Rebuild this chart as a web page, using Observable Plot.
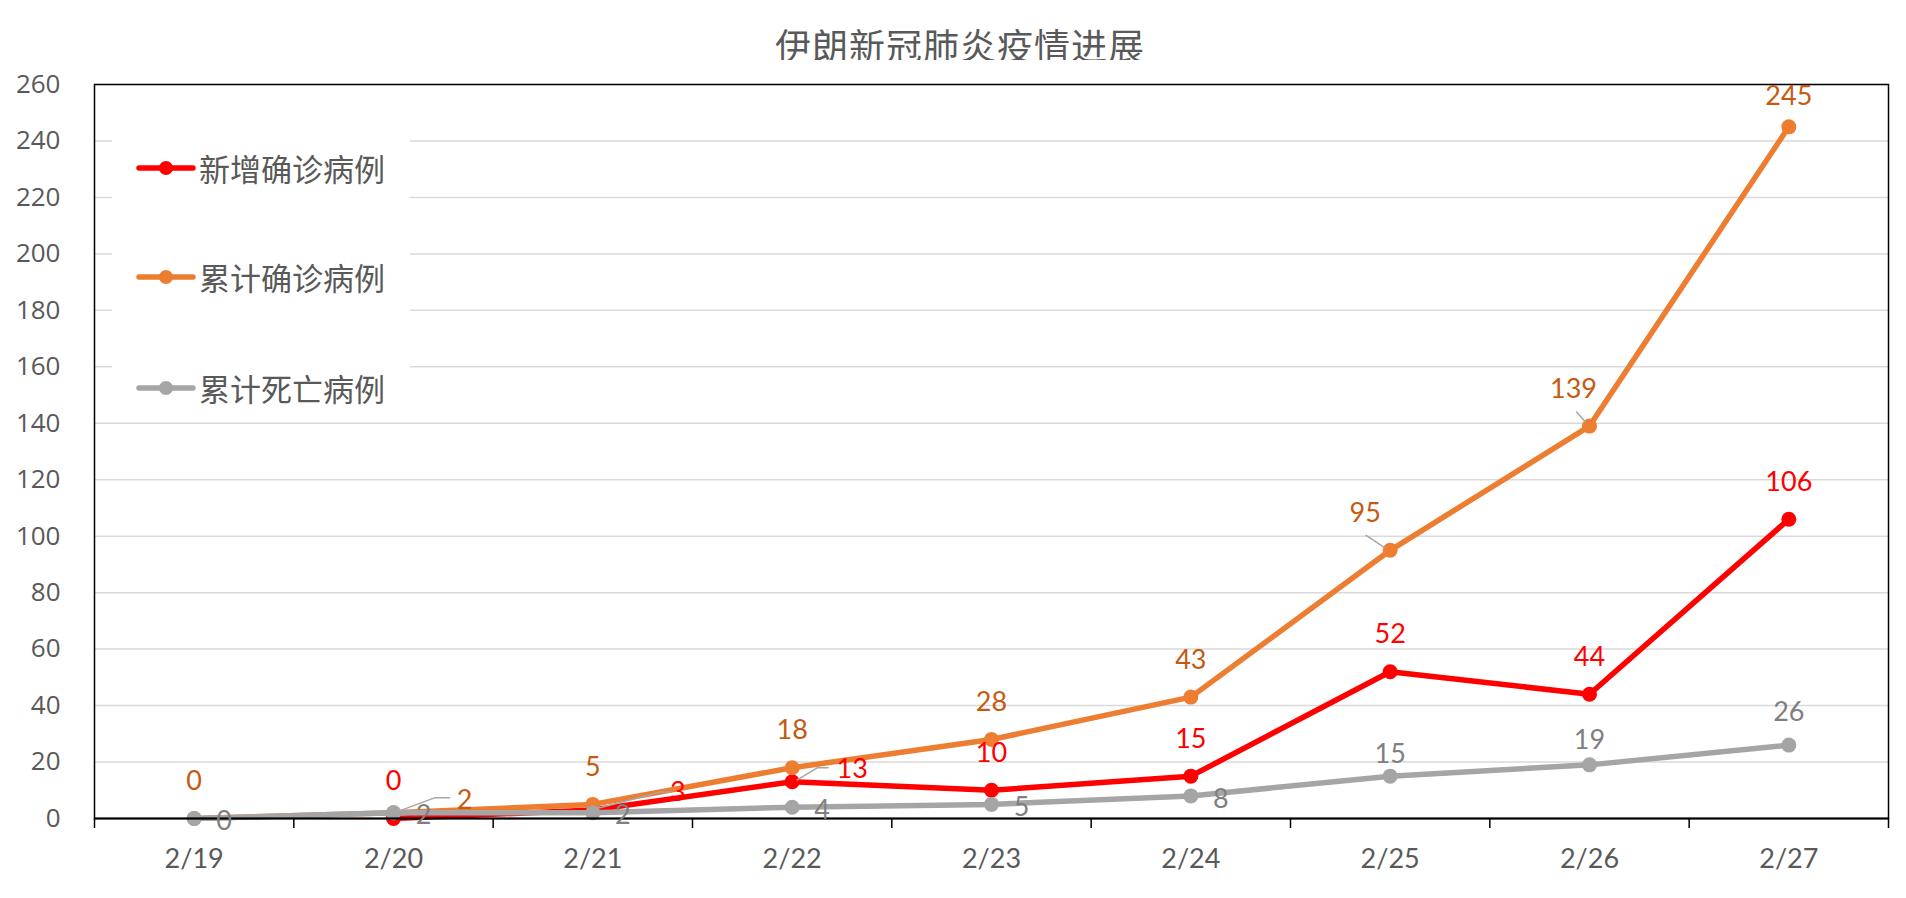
<!DOCTYPE html>
<html>
<head>
<meta charset="utf-8">
<script src="https://cdn.jsdelivr.net/npm/d3@7"></script>
<script src="https://cdn.jsdelivr.net/npm/@observablehq/plot@0.6"></script>
<style>
  html, body { margin: 0; padding: 0; background: #fff; }
  #wrap { position: relative; width: 1906px; height: 898px; overflow: hidden; background: #fff; }
  #title { position: absolute; left: 7px; top: 25px; width: 1906px; text-align: center;
           font-family: "Noto Sans CJK SC", sans-serif; font-size: 36px; line-height: 38px;
           color: #595959; letter-spacing: 1px; }
  #chart { position: absolute; left: 0; top: 60px; }
  #legend { position: absolute; left: 112px; top: 100px; width: 298px; height: 310px; background: #fff; }
  .lrow { position: absolute; left: 0; height: 40px; display: flex; align-items: center; }
  .lrow svg { margin-left: 24px; }
  .lrow span { margin-left: 3px; font-family: "Noto Sans CJK SC", sans-serif; font-size: 31px;
               color: #595959; line-height: 40px; white-space: nowrap; }
</style>
</head>
<body>
<div id="wrap">
  <div id="title">伊朗新冠肺炎疫情进展</div>
  <div id="chart"></div>
  <div id="legend"></div>
</div>
<script>
// ---------------- data ----------------
const dates = ["2/19", "2/20", "2/21", "2/22", "2/23", "2/24", "2/25", "2/26", "2/27"];
const seriesNames = ["新增确诊病例", "累计确诊病例", "累计死亡病例"];
const newCases    = [null, 0, 3, 13, 10, 15, 52, 44, 106];
const totalCases  = [0, 2, 5, 18, 28, 43, 95, 139, 245];
const totalDeaths = [0, 2, 2, 4, 5, 8, 15, 19, 26];
const yTicks = [0, 20, 40, 60, 80, 100, 120, 140, 160, 180, 200, 220, 240, 260];

// ---------------- styles / layout ----------------
const lineColors  = ["#FF0000", "#ED7D31", "#A5A5A5"];
const labelColors = ["#FF0000", "#C55A11", "#7F7F7F"];
const leaderColor = "#A6A6A6";
// data-label placement codes per series (see placement table)
const newCasesLabelPos    = [null, "a", "Lr1", "Lr2", "a", "a", "a", "a", "a"];
const totalCasesLabelPos  = ["a", "Lr0", "a", "a", "a", "a", "Lu1", "Lu2", "aTop"];
const totalDeathsLabelPos = ["r", "r", "r", "r", "r", "r", "a22", "a25", "a33"];
// pixel offsets of each placement (label centre, optional leader polyline)
const placement = {
  a:    {dx: 0, dy: -37},
  aTop: {dx: 0, dy: -30},
  a22:  {dx: 0, dy: -22},
  a25:  {dx: 0, dy: -25},
  a33:  {dx: 0, dy: -33},
  r:    {dx: 30, dy: 3},
  Lr0:  {dx: 71, dy: -12, leader: [[6, -2], [41, -15], [56, -15]]},
  Lr1:  {dx: 85, dy: -18, leader: [[6, -2], [68, -18], [78, -18]]},
  Lr2:  {dx: 60, dy: -12, leader: [[5, -2], [25, -14], [36, -14]]},
  Lu1:  {dx: -25, dy: -37, leader: [[-24, -15], [-6, -3]]},
  Lu2:  {dx: -16, dy: -37, leader: [[-13, -14], [-4, -4]]}
};

const W = 1906, H = 838, mL = 94, mR = 18, mT = 24, mB = 80;
const yMax = yTicks[yTicks.length - 1];
const kx = (W - mL - mR) / dates.length;   // px per category
const ky = (H - mT - mB) / yMax;           // px per unit

const seriesValues = [newCases, totalCases, totalDeaths];
const seriesPos = [newCasesLabelPos, totalCasesLabelPos, totalDeathsLabelPos];

const rowsOf = s => seriesValues[s].map((v, i) => ({i, v, pos: seriesPos[s][i]}));

const marks = [
  Plot.gridY(yTicks.filter(t => t > 0), {stroke: "#D9D9D9", strokeOpacity: 1, strokeWidth: 1.5})
];

// series lines + markers (drawn in Excel series order)
for (let s = 0; s < 3; s++) {
  const rows = rowsOf(s);
  marks.push(Plot.line(rows, {x: "i", y: "v", stroke: lineColors[s], strokeWidth: 5.5,
    strokeLinecap: "round", strokeLinejoin: "round"}));
  marks.push(Plot.dot(rows.filter(d => d.v != null), {x: "i", y: "v", r: 7.5, fill: lineColors[s], stroke: "none"}));
}

// frame, axis line, axes
marks.push(Plot.frame({stroke: "#000", strokeWidth: 1.5}));
marks.push(Plot.ruleY([0], {stroke: "#000", strokeWidth: 2}));
marks.push(Plot.axisX(d3.range(-0.5, dates.length, 1), {tickSize: 10, tickFormat: () => "",
  stroke: "#000", strokeWidth: 1.5, label: null}));
marks.push(Plot.axisX(d3.range(dates.length), {tickSize: 0, tickPadding: 30, tickFormat: i => dates[i],
  fontSize: 27, fontFamily: "Lato, sans-serif", color: "#595959", label: null}));
marks.push(Plot.axisY(yTicks, {tickSize: 0, tickPadding: 34, fontSize: 26,
  fontFamily: "'Open Sans', sans-serif", color: "#595959", label: null}));

// leader lines
const leaders = [];
for (let s = 0; s < 3; s++) {
  rowsOf(s).forEach(d => {
    const p = d.pos && placement[d.pos];
    if (p && p.leader) {
      p.leader.forEach(([px, py]) => leaders.push({id: s + "-" + d.i, x: d.i + px / kx, y: d.v - py / ky}));
    }
  });
}
marks.push(Plot.line(leaders, {x: "x", y: "y", z: "id", stroke: leaderColor, strokeWidth: 1.5}));

// data labels
for (let s = 0; s < 3; s++) {
  const rows = rowsOf(s).filter(d => d.v != null && d.pos);
  const codes = [...new Set(rows.map(d => d.pos))];
  codes.forEach(c => {
    const p = placement[c];
    marks.push(Plot.text(rows.filter(d => d.pos === c), {
      x: "i", y: "v", text: d => String(d.v), dx: p.dx, dy: p.dy,
      fill: labelColors[s], fontSize: 27, fontFamily: "Lato, sans-serif"
    }));
  });
}

const chart = Plot.plot({
  width: W, height: H,
  marginLeft: mL, marginRight: mR, marginTop: mT, marginBottom: mB,
  x: {type: "linear", domain: [-0.5, dates.length - 0.5]},
  y: {domain: [0, yMax]},
  style: {background: "#fff", overflow: "visible"},
  marks
});
document.getElementById("chart").appendChild(chart);

// legend (inside plot area, top-left, white box)
const legend = document.getElementById("legend");
const legendRowTops = [48, 157, 268];
seriesNames.forEach((name, k) => {
  const row = document.createElement("div");
  row.className = "lrow";
  row.style.top = legendRowTops[k] + "px";
  row.innerHTML =
    `<svg width="60" height="40"><line x1="3" y1="20" x2="57" y2="20" stroke="${lineColors[k]}" stroke-width="5.5" stroke-linecap="round"/>` +
    `<circle cx="30" cy="20" r="7" fill="${lineColors[k]}"/></svg><span>${name}</span>`;
  legend.appendChild(row);
});
</script>
</body>
</html>
